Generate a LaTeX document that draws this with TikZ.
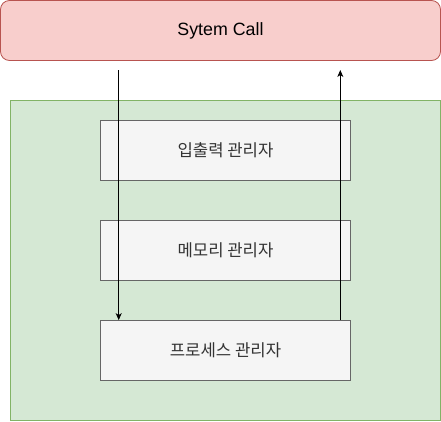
\documentclass[tikz,border=0pt]{standalone}
\usepackage{fontspec}
\setmainfont{Liberation Sans}
\newfontfamily\krfont{Noto Sans CJK KR}
\usetikzlibrary{arrows.meta}
\definecolor{redfill}{HTML}{F8CECC}
\definecolor{redline}{HTML}{B85450}
\definecolor{greenfill}{HTML}{D5E8D4}
\definecolor{greenline}{HTML}{82B366}
\definecolor{greyfill}{HTML}{F5F5F5}
\definecolor{greyline}{HTML}{666666}
\definecolor{greytext}{HTML}{333333}
\tikzset{
  mgrbox/.style={draw=greyline, fill=greyfill, text=greytext, minimum width=250pt, minimum height=60pt, inner sep=0pt, font=\krfont\fontsize{16.7}{19}\selectfont, line width=0.8pt},
  flow/.style={line width=0.8pt, -{Stealth[length=7pt,width=6pt,inset=2pt]}},
}
\begin{document}
\begin{tikzpicture}[x=1pt,y=-1pt]
\useasboundingbox (0,0) rectangle (441,421);
\node[draw=redline, fill=redfill, rounded corners=9pt, minimum width=440pt, minimum height=60pt, inner sep=0pt, line width=0.8pt, font=\fontsize{17.8}{20}\selectfont] (sys) at (220.5,30.5) {Sytem Call};
\node[draw=greenline, fill=greenfill, minimum width=430pt, minimum height=320pt, inner sep=0pt, line width=0.8pt] (kernel) at (225.5,260.3) {};
\node[mgrbox] (io) at (225.5,150.5) {입출력 관리자};
\node[mgrbox] (mem) at (225.5,250.5) {메모리 관리자};
\node[mgrbox] (proc) at (225.5,350.5) {프로세스 관리자};
\coordinate (downstart) at (118.7,70);
\coordinate (upend) at (340.3,70);
\draw[flow] (downstart) -- (downstart |- proc.north);
\draw[flow] (upend |- proc.north) -- (upend);
\end{tikzpicture}
\end{document}
